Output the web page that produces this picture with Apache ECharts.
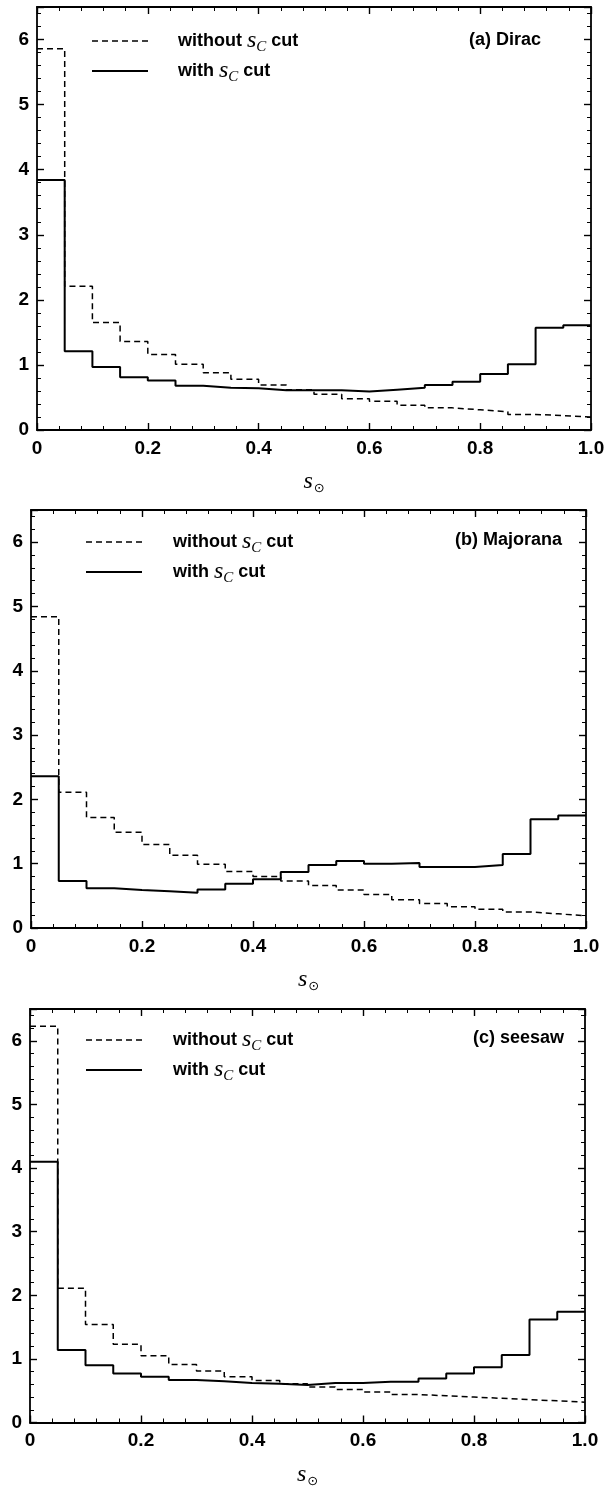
<!DOCTYPE html>
<html>
<head>
<meta charset="utf-8">
<script src="https://cdn.jsdelivr.net/npm/echarts@6/dist/echarts.min.js"></script>
<style>
  html, body { margin: 0; padding: 0; background: #fff; }
  #main { width: 609px; height: 1489px; }
</style>
</head>
<body>
<div id="main"></div>
<script>
// bin edges of the s_sun histogram (20 bins of 0.05)
var binEdges = [0, 0.05, 0.1, 0.15, 0.2, 0.25, 0.3, 0.35, 0.4, 0.45, 0.5,
                0.55, 0.6, 0.65, 0.7, 0.75, 0.8, 0.85, 0.9, 0.95, 1.0];

// (a) Dirac
var diracWithout = [5.86, 2.21, 1.65, 1.36, 1.16, 1.01, 0.88, 0.78, 0.69, 0.62,
                    0.55, 0.48, 0.44, 0.38, 0.34, 0.31, 0.28, 0.24, 0.22, 0.20];
var diracWith    = [3.84, 1.21, 0.97, 0.81, 0.76, 0.68, 0.65, 0.64, 0.61, 0.61,
                    0.61, 0.59, 0.62, 0.65, 0.69, 0.74, 0.86, 1.01, 1.57, 1.61];
// (b) Majorana
var majWithout   = [4.84, 2.11, 1.72, 1.49, 1.30, 1.13, 0.99, 0.88, 0.80, 0.73,
                    0.66, 0.59, 0.52, 0.44, 0.38, 0.33, 0.29, 0.25, 0.22, 0.19];
var majWith      = [2.36, 0.73, 0.62, 0.59, 0.57, 0.55, 0.60, 0.69, 0.76, 0.87,
                    0.98, 1.04, 1.00, 1.01, 0.95, 0.95, 0.98, 1.15, 1.69, 1.75];
// (c) seesaw
var seeWithout   = [6.23, 2.11, 1.54, 1.23, 1.05, 0.91, 0.81, 0.72, 0.66, 0.61,
                    0.56, 0.52, 0.48, 0.44, 0.42, 0.40, 0.38, 0.36, 0.34, 0.32];
var seeWith      = [4.10, 1.14, 0.90, 0.77, 0.72, 0.67, 0.65, 0.62, 0.61, 0.59,
                    0.62, 0.62, 0.64, 0.64, 0.69, 0.77, 0.87, 1.06, 1.62, 1.74];

var xTicks = [0, 0.2, 0.4, 0.6, 0.8, 1.0];
var yTicks = [0, 1, 2, 3, 4, 5, 6];
var panelLabels = ['(a) Dirac', '(b) Majorana', '(c) seesaw'];
var legendNames = ['without', 'with'];

var panels = [
  { without: diracWithout, with: diracWith, grid: { left: 37, top: 7, width: 554, height: 423 },
    legend: { x: 92, y: 41, textX: 178 }, label: { right: 68, y: 42 } },
  { without: majWithout, with: majWith, grid: { left: 31, top: 510, width: 555, height: 418 },
    legend: { x: 86, y: 542, textX: 173 }, label: { right: 47, y: 542 } },
  { without: seeWithout, with: seeWith, grid: { left: 30, top: 1009, width: 555, height: 419 },
    legend: { x: 86, y: 1040, textX: 173 }, label: { right: 45, y: 1040 } }
];

function steps(vals) {
  return binEdges.map(function (x, i) {
    return [x, vals[Math.min(i, vals.length - 1)]];
  });
}

var sansFont = '"Liberation Sans", Arial, sans-serif';
var serifFont = '"Liberation Serif", "DejaVu Serif", serif';

var tickFont = { fontFamily: sansFont, fontSize: 19, fontWeight: 'bold', color: '#000' };
var lineBlack = { color: '#000', width: 1.8 };
var dashStyle = { color: '#000', width: 1.5, type: [6, 4] };
var solidStyle = { color: '#000', width: 2 };

var legendRich = {
  t: { fontFamily: sansFont, fontSize: 18, fontWeight: 'bold', fill: '#000', color: '#000', lineHeight: 26 },
  s: { fontFamily: serifFont, fontStyle: 'italic', fontSize: 24, fill: '#000', color: '#000', lineHeight: 26 },
  c: { fontFamily: serifFont, fontStyle: 'italic', fontSize: 15, fill: '#000', color: '#000', lineHeight: 14, padding: [12, 0, 0, 0] }
};

var grids = [], xAxes = [], yAxes = [], series = [], graphics = [];

function tickOpts() {
  return {
    axisTick: { show: true, inside: true, length: 7, lineStyle: { color: '#000', width: 1.4 } },
    minorTick: { show: true, splitNumber: 5, length: 4, lineStyle: { color: '#000', width: 1 } },
    splitLine: { show: false }
  };
}

panels.forEach(function (p, k) {
  grids.push(Object.assign({ show: false }, p.grid));

  // bottom axis with labels
  xAxes.push(Object.assign({
    type: 'value', gridIndex: k, min: 0, max: 1, interval: 0.2, position: 'bottom',
    axisLine: { onZero: false, lineStyle: lineBlack },
    axisLabel: Object.assign({ margin: 9, formatter: function (v) {
      return xTicks.indexOf(v) < 0 ? '' : (v === 0 ? '0' : v.toFixed(1));
    } }, tickFont),
    name: '{s|s}{o|\u2299}', nameLocation: 'middle', nameGap: 39,
    nameTextStyle: {
      rich: {
        s: { fontFamily: serifFont, fontStyle: 'italic', fontSize: 24, color: '#000', lineHeight: 26 },
        o: { fontFamily: '"DejaVu Sans"', fontSize: 13, color: '#000', lineHeight: 14, padding: [14, 0, 0, 1] }
      }
    }
  }, tickOpts()));
  // top mirror axis
  xAxes.push(Object.assign({
    type: 'value', gridIndex: k, min: 0, max: 1, interval: 0.2, position: 'top',
    axisLine: { onZero: false, lineStyle: lineBlack },
    axisLabel: { show: false }
  }, tickOpts()));
  // left axis with labels
  yAxes.push(Object.assign({
    type: 'value', gridIndex: k, min: 0, max: 6.5, interval: 1, position: 'left',
    axisLine: { show: true, onZero: false, lineStyle: lineBlack },
    axisLabel: Object.assign({ margin: 8, showMaxLabel: false, formatter: function (v) {
      return yTicks.indexOf(v) < 0 ? '' : String(v);
    } }, tickFont)
  }, tickOpts()));
  // right mirror axis
  yAxes.push(Object.assign({
    type: 'value', gridIndex: k, min: 0, max: 6.5, interval: 1, position: 'right',
    axisLine: { show: true, onZero: false, lineStyle: lineBlack },
    axisLabel: { show: false }
  }, tickOpts()));

  series.push({
    name: legendNames[0], type: 'line', step: 'end', xAxisIndex: 2 * k, yAxisIndex: 2 * k,
    symbol: 'none', silent: true, z: 3, lineStyle: dashStyle,
    data: steps(p.without)
  });
  series.push({
    name: legendNames[1], type: 'line', step: 'end', xAxisIndex: 2 * k, yAxisIndex: 2 * k,
    symbol: 'none', silent: true, z: 4, lineStyle: solidStyle,
    data: steps(p.with)
  });

  // legend drawn by hand: line sample + rich text
  legendNames.forEach(function (name, i) {
    var y = p.legend.y + i * 30;
    graphics.push({
      type: 'line', silent: true,
      shape: { x1: p.legend.x, y1: y, x2: p.legend.x + 56, y2: y },
      style: i === 0 ? { stroke: '#000', lineWidth: 1.5, lineDash: [6, 4] } : { stroke: '#000', lineWidth: 2 }
    });
    graphics.push({
      type: 'text', silent: true, x: p.legend.textX, y: y,
      style: {
        text: '{t|' + name + ' }{s|s}{c|C}{t| cut}',
        verticalAlign: 'middle', rich: legendRich
      }
    });
  });

  graphics.push({
    type: 'text', right: p.label.right, top: p.label.y - 11,
    style: { text: panelLabels[k], font: 'bold 18px ' + sansFont, fill: '#000' }
  });
});

var chart = echarts.init(document.getElementById('main'), null, { renderer: 'canvas' });
chart.setOption({
  backgroundColor: '#fff',
  animation: false,
  grid: grids,
  xAxis: xAxes,
  yAxis: yAxes,
  graphic: graphics,
  series: series
});
</script>
</body>
</html>
